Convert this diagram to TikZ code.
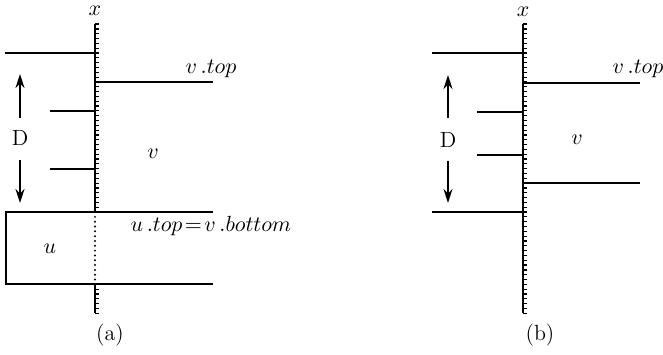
\documentclass[tikz,border=0pt]{standalone}
\usetikzlibrary{arrows.meta}
\begin{document}
\begin{tikzpicture}[x=0.5pt,y=-0.5pt,
  axis/.style={line width=0.9pt},
  lev/.style={line width=0.85pt},
  tickmark/.style={line width=0.6pt},
  lab/.style={inner sep=0pt, font=\fontsize{11}{13}\selectfont},
  darr/.style={line width=0.85pt,-{Stealth[length=7pt,width=4.5pt]}}]
\useasboundingbox (0,0) rectangle (663,354);
\def\tu{4.82}
% ---------- panel (a) ----------
\coordinate (aTop) at (95,24);
\coordinate (aBoxT) at (95,212);
\coordinate (aBoxB) at (95,284.4);
\coordinate (aBot) at (95,313);
\draw[axis] (aTop) -- (aBoxT);
\draw[axis] (aBoxB) -- (aBot);
\foreach \k in {-6,...,32,49,50,...,54}{
  \draw[tickmark] (95,53+\k*\tu) -- (98.5,53+\k*\tu);
}
\foreach \k in {34,...,47}{
  \fill (95,53+\k*\tu) circle (1.1);
}
\node[lab] (ax) at (95,11) {$x$};
% levels
\draw[lev] (5,53) -- (95,53);
\draw[lev] (95,82) -- (213,82);
\draw[lev] (50,111) -- (95,111);
\draw[lev] (50,169) -- (95,169);
% box u
\draw[lev] (213,212) -- (6,212) -- (6,284) -- (213,284);
% labels
\node[lab] (avtop) at (211,69) {$v\,.top$};
\node[lab] (av) at (153,154) {$v$};
\node[lab] (au) at (50,249) {$u$};
\node[lab] (aeq) at (211,226) {$u\,.top\!=\!v\,.bottom$};
\node[lab] (aD) at (20,138) {D};
\coordinate (aDu) at (20,118);
\coordinate (aDuTip) at (20,74);
\coordinate (aDd) at (20,160);
\coordinate (aDdTip) at (20,203);
\draw[darr] (aDu) -- (aDuTip);
\draw[darr] (aDd) -- (aDdTip);
\node[lab] (acap) at (110,335) {(a)};
% ---------- panel (b) ----------
\coordinate (bTop) at (523,24);
\coordinate (bBot) at (523,313);
\draw[axis] (bTop) -- (bBot);
\foreach \k in {-6,...,54}{
  \draw[tickmark] (523,53+\k*\tu) -- (526.5,53+\k*\tu);
}
\node[lab] (bx) at (523,12) {$x$};
\draw[lev] (432,53) -- (523,53);
\draw[lev] (523,83) -- (640,83);
\draw[lev] (477,112) -- (523,112);
\draw[lev] (477,155) -- (523,155);
\draw[lev] (523,183) -- (640,183);
\draw[lev] (432,212) -- (523,212);
\node[lab] (bvtop) at (638,69) {$v\,.top$};
\node[lab] (bv) at (577,140) {$v$};
\node[lab] (bD) at (448,140) {D};
\coordinate (bDu) at (448,118);
\coordinate (bDuTip) at (448,75);
\coordinate (bDd) at (448,161);
\coordinate (bDdTip) at (448,203);
\draw[darr] (bDu) -- (bDuTip);
\draw[darr] (bDd) -- (bDdTip);
\node[lab] (bcap) at (540,335) {(b)};
\end{tikzpicture}
\end{document}
